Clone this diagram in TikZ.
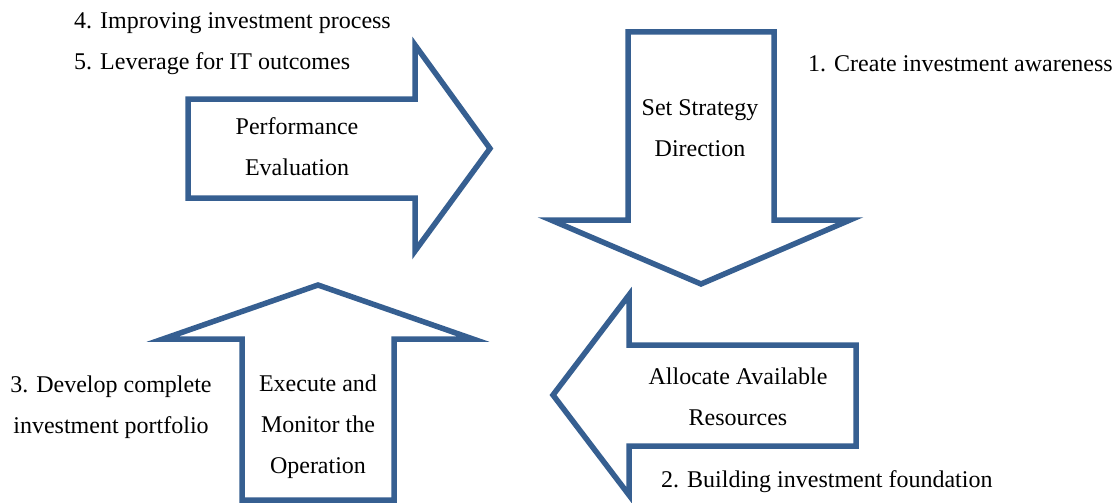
\documentclass[tikz,border=0pt]{standalone}
\usepackage{fontspec}
\setmainfont{Liberation Serif}
\usepackage{xcolor}
\definecolor{cycleblue}{RGB}{54,95,145}
\usetikzlibrary{positioning}
\tikzset{
  bigarrow/.style={
    draw=cycleblue, fill=white, line width=5.5pt, miter limit=10},
  inlabel/.style={
    align=center, inner sep=0pt, font=\fontsize{24}{41}\selectfont},
  note/.style={
    anchor=base west, inner sep=0pt, font=\fontsize{24}{41}\selectfont},
}

\begin{document}
\begin{tikzpicture}[x=1pt,y=-1pt]
  \useasboundingbox (0,0) rectangle (1119,503);
  % the four arrows of the cycle
  \draw[bigarrow] (188,99) -- (415,99) -- (415,45) -- (490,148.5)
    -- (415,251) -- (415,198) -- (188,198) -- cycle;
  \draw[bigarrow] (628,32) -- (774,32) -- (774,220) -- (850,220)
    -- (701,284) -- (551,220) -- (628,220) -- cycle;
  \draw[bigarrow] (856,345) -- (629,345) -- (629,295) -- (553,395)
    -- (629,495) -- (629,446) -- (856,446) -- cycle;
  \draw[bigarrow] (242,500) -- (242,339) -- (163,339) -- (318,285)
    -- (473,339) -- (394,339) -- (394,500) -- cycle;
  % texts inside the arrows
  \node[inlabel] (perf)  at (297,147) {Performance\\Evaluation};
  \node[inlabel] (strat) at (700,128) {Set Strategy\\Direction};
  \node[inlabel] (alloc) at (738,397) {Allocate Available\\Resources};
  \node[inlabel] (exec)  at (318,427) {Execute and\\Monitor the\\Operation};
  % numbered steps
  \node[note] (aware)   at (808,72)  {1. Create investment awareness};
  \node[note] (found)   at (661,487) {2. Building investment foundation};
  \node[inlabel] (port) at (111,407) {3. Develop complete\\investment portfolio};
  \node[note] (improve) at (74,29)   {4. Improving investment process};
  \node[note] (lever)   at (74,70)   {5. Leverage for IT outcomes};
\end{tikzpicture}
\end{document}
